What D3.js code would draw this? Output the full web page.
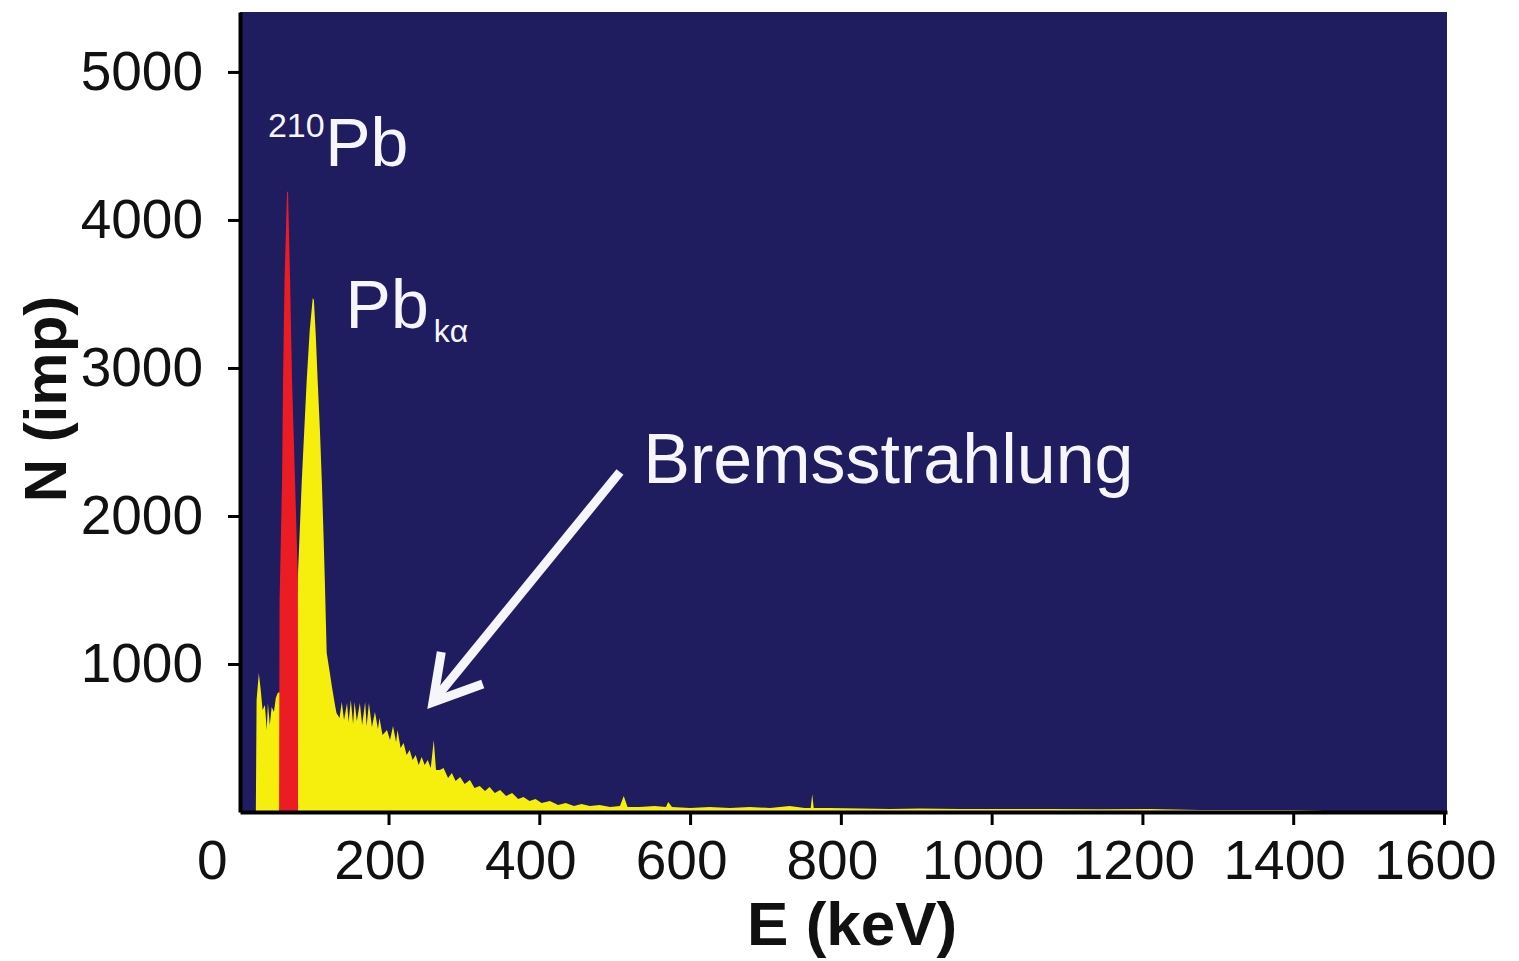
<!DOCTYPE html>
<html>
<head>
<meta charset="utf-8">
<script src="https://cdn.jsdelivr.net/npm/d3@7"></script>
<style>
  body { margin: 0; background: #fff; }
  svg text { font-family: "Liberation Sans", Arial, sans-serif; }
</style>
</head>
<body>
<div id="chart"></div>
<script>
// ---- spectrum data
// yellow: full spectrum, energy in keV / counts
const yellowE = [24, 25, 28, 30.5, 33, 36, 38.5, 40, 42.5, 45, 48, 50.5, 53, 62, 72, 79.6,
  85, 91.5, 95.5, 99.5, 101, 103.5, 106, 109, 111.5, 114, 115.5, 118, 122, 125, 129, 131,
  135, 138, 141, 145, 147, 150, 153, 155, 158, 162, 165, 169, 171, 174, 178, 182,
  186, 188, 192, 198, 202, 206, 210, 212, 216, 220, 224, 228, 232, 236, 240, 244,
  248, 252, 256, 260, 263, 268, 273, 279, 284, 289, 295, 301, 308, 314, 321, 328,
  334, 341, 348, 356, 364, 372, 379, 387, 395, 403, 414, 425, 435, 446, 456, 467,
  480, 494, 507, 512, 517, 533, 553, 568, 571, 576, 600, 626, 653, 679, 706, 732,
  752, 760, 762, 764, 785, 825, 865, 905, 958, 1011, 1077, 1144, 1210, 1276, 1343, 1396,
  1436, 1440];
const yellowN = [0, 757, 939, 824, 689, 723, 554, 736, 588, 709, 676, 770, 804, 824, 760, 1568,
  2243, 2919, 3257, 3473, 3459, 3223, 2919, 2581, 2243, 1838, 1568, 1074, 946, 845, 723, 669,
  635, 743, 622, 736, 608, 757, 595, 743, 615, 736, 588, 743, 581, 736, 574, 676,
  561, 635, 520, 554, 486, 581, 473, 554, 432, 466, 385, 419, 351, 385, 318, 372,
  318, 351, 297, 486, 284, 284, 297, 230, 264, 209, 236, 189, 216, 162, 176, 142,
  169, 128, 149, 108, 128, 88, 101, 74, 88, 61, 74, 47, 61, 41, 54, 41,
  47, 34, 41, 108, 34, 34, 41, 34, 68, 34, 27, 34, 27, 34, 27, 41,
  27, 27, 120, 27, 27, 24, 20, 24, 20, 20, 20, 18, 20, 14, 14, 14,
  8, 0];

// red: 210Pb line
const redE = [54.8, 55.5, 58.8, 60.1, 62.1, 65.4, 66.7, 69.4, 72.0, 76.0, 79.8, 80.0];
const redN = [0, 1430, 2240, 2920, 3600, 4190, 4190, 3600, 2920, 2240, 1570, 0];

const xTicks = [0, 200, 400, 600, 800, 1000, 1200, 1400, 1600];
const yTicks = [1000, 2000, 3000, 4000, 5000];

// ---- plotting init
var margin = {top: 12, right: 72, bottom: 149, left: 240},
    width = 1519 - margin.left - margin.right,
    height = 961 - margin.top - margin.bottom;

var svg = d3.select("#chart")
  .append("svg")
    .attr("width", width + margin.left + margin.right)
    .attr("height", height + margin.top + margin.bottom)
  .append("g")
    .attr("transform", "translate(" + margin.left + "," + margin.top + ")");

const xScale = d3.scaleLinear()
    .domain([3, 1604])
    .range([0, width]);

const yScale = d3.scaleLinear()
    .domain([0, 5405])
    .range([height, 0]);

var navy = "#201c60",
    yellow = "#f6ee0c",
    red = "#ec1c24",
    white = "#f6f6fa";

// plot background
svg.append("rect")
    .attr("width", width)
    .attr("height", height)
    .attr("fill", navy);

const area = d3.area()
    .x(d => xScale(d[0]))
    .y0(yScale(0))
    .y1(d => yScale(d[1]));

svg.append("path")
    .datum(d3.zip(yellowE, yellowN))
    .attr("fill", yellow)
    .attr("d", area);

svg.append("path")
    .datum(d3.zip(redE, redN))
    .attr("fill", red)
    .attr("d", area);

// axes
var xAxis = svg.append("g")
    .attr("transform", "translate(0," + height + ")")
    .call(d3.axisBottom(xScale).tickValues(xTicks).tickSize(13).tickSizeOuter(0).tickPadding(15)
      .tickFormat(d3.format("d")));
xAxis.select(".domain").attr("stroke-width", 4);
xAxis.selectAll(".tick line").attr("stroke-width", 3);
xAxis.selectAll(".tick").filter(d => d === 0).select("line").remove();
xAxis.selectAll(".tick text")
    .attr("font-family", "Liberation Sans, Arial, sans-serif")
    .attr("font-size", 55)
    .attr("fill", "#111")
    .attr("dx", d => d === 0 ? -26 : -9);

var yAxis = svg.append("g")
    .call(d3.axisLeft(yScale).tickValues(yTicks).tickSize(12).tickSizeOuter(0).tickPadding(25)
      .tickFormat(d3.format("d")));
yAxis.select(".domain").attr("stroke-width", 4);
yAxis.selectAll(".tick line").attr("stroke-width", 3);
yAxis.selectAll(".tick text")
    .attr("font-family", "Liberation Sans, Arial, sans-serif")
    .attr("font-size", 55)
    .attr("fill", "#111");

// axis titles
svg.append("text")
    .attr("x", xScale(815))
    .attr("y", height + 133)
    .attr("text-anchor", "middle")
    .attr("font-size", 62)
    .attr("font-weight", "bold")
    .attr("fill", "#111")
    .text("E (keV)");

svg.append("text")
    .attr("transform", "translate(" + (-174) + "," + yScale(2790) + ") rotate(-90)")
    .attr("text-anchor", "middle")
    .attr("font-size", 60)
    .attr("font-weight", "bold")
    .attr("fill", "#111")
    .text("N (imp)");

// peak labels
svg.append("text")
    .attr("x", xScale(40))
    .attr("y", yScale(4561))
    .attr("font-size", 34)
    .attr("fill", white)
    .text("210");
svg.append("text")
    .attr("x", xScale(116))
    .attr("y", yScale(4365))
    .attr("font-size", 68)
    .attr("fill", white)
    .text("Pb");

svg.append("text")
    .attr("x", xScale(143))
    .attr("y", yScale(3270))
    .attr("font-size", 68)
    .attr("fill", white)
    .text("Pb");
svg.append("text")
    .attr("x", xScale(260))
    .attr("y", yScale(3175))
    .attr("font-size", 32)
    .attr("fill", white)
    .text("kα");

svg.append("text")
    .attr("x", xScale(538))
    .attr("y", yScale(2223))
    .attr("font-size", 70)
    .attr("fill", white)
    .text("Bremsstrahlung");

// arrow to the bremsstrahlung continuum
svg.append("line")
    .attr("x1", xScale(507)).attr("y1", yScale(2297))
    .attr("x2", xScale(261)).attr("y2", yScale(760))
    .attr("stroke", white)
    .attr("stroke-width", 9);

svg.append("path")
    .attr("d", d3.line()([[xScale(270), yScale(1081)], [xScale(259), yScale(743)], [xScale(325), yScale(865)]]))
    .attr("fill", "none")
    .attr("stroke", white)
    .attr("stroke-width", 9)
    .attr("stroke-linejoin", "miter");
</script>
</body>
</html>
